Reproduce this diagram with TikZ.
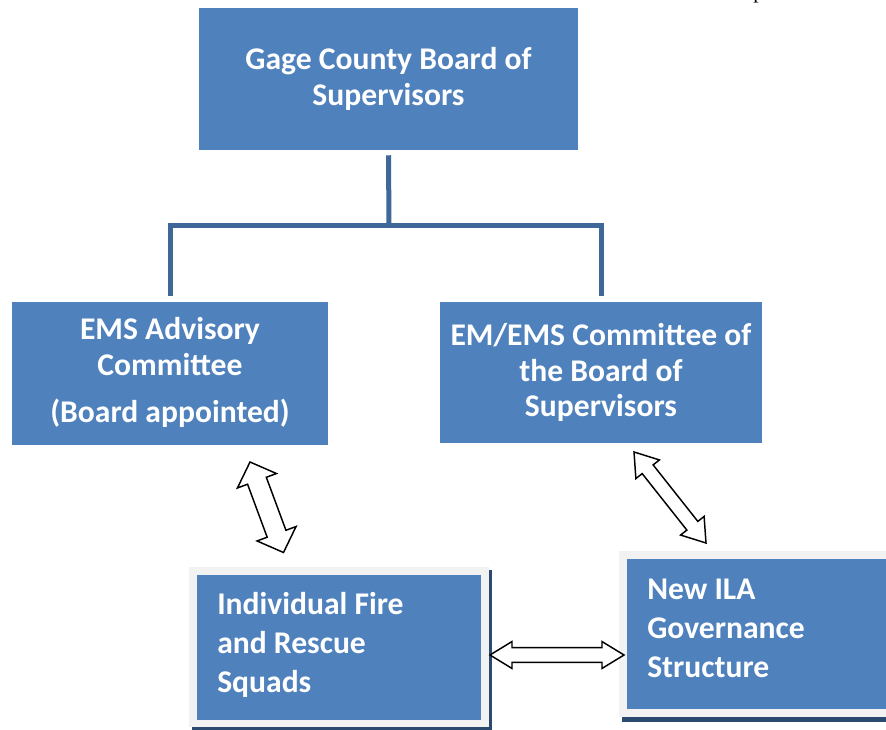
\documentclass[tikz,border=0pt]{standalone}
\usepackage{fontspec}
\setmainfont{Carlito}
\newfontfamily\serifp{Liberation Serif}
\usetikzlibrary{calc}
\definecolor{boxblue}{HTML}{4F81BD}
\definecolor{linkblue}{HTML}{3F6899}
\definecolor{shadowblue}{HTML}{2B4A70}
\definecolor{rimgray}{HTML}{F2F2F2}
\newcommand\hollowpair[5]{%
  \draw[hollow] (#1) -- ($(#1)!#3!(#2)!#4!90:(#2)$) -- ($(#1)!#3!(#2)!#5!90:(#2)$)
    -- ($(#2)!#3!(#1)!#5!-90:(#1)$) -- ($(#2)!#3!(#1)!#4!-90:(#1)$) -- (#2)
    -- ($(#2)!#3!(#1)!#4!90:(#1)$) -- ($(#2)!#3!(#1)!#5!90:(#1)$)
    -- ($(#1)!#3!(#2)!#5!-90:(#2)$) -- ($(#1)!#3!(#2)!#4!-90:(#2)$) -- cycle;}
\begin{document}
\begin{tikzpicture}[x=0.75pt,y=-0.75pt,
  box/.style={fill=boxblue,draw=none,inner sep=0pt},
  rim/.style={fill=rimgray,draw=none,inner sep=0pt},
  shade/.style={fill=shadowblue,draw=none,inner sep=0pt},
  txt/.style={text=white,inner sep=0pt,font=\bfseries\fontsize{23.7}{26.6}\selectfont},
  txtlow/.style={txt,align=left,anchor=west,font=\bfseries\fontsize{23.7}{29.25}\selectfont},
  link/.style={draw=linkblue,line width=3.75pt},
  hollow/.style={draw=black,fill=white,line width=1.1pt,line join=miter}]
\useasboundingbox[fill=white] (0,0) rectangle (886,730);
% fragment of text at the top edge
\node[anchor=base west,inner sep=0pt,font=\serifp\fontsize{16}{16}\selectfont] (pfrag) at (753,-1) {p};
% boxes
\node[box,minimum width=284.25pt,minimum height=106.5pt] (top) at (388.5,79) {};
\node[box,minimum width=237pt,minimum height=107.25pt] (ems) at (170,373.5) {};
\node[box,minimum width=241.5pt,minimum height=105.75pt] (emc) at (601,372.5) {};
% Individual Fire box with rim and shadow
\node[shade,minimum width=225pt,minimum height=120pt] (ifrsh) at (342,650) {};
\node[rim,minimum width=225pt,minimum height=120pt] (ifrrim) at (339,647) {};
\node[box,minimum width=213pt,minimum height=108.75pt] (ifr) at (339,647.5) {};
% New ILA box with rim and shadow
\node[shade,minimum width=202.5pt,minimum height=124.5pt] (ilash) at (757,639) {};
\node[rim,minimum width=204.75pt,minimum height=124.5pt] (ilarim) at (755.5,634) {};
\node[box,minimum width=198.75pt,minimum height=112.5pt] (ila) at (759.5,634) {};
% texts
\node[txt,align=center] (toptext) at (top) {Gage County Board of\\Supervisors};
\node[txt,align=center] (emstext) at (170,372.5) {EMS Advisory\\Committee\\[9pt](Board appointed)};
\node[txt,align=center] (emctext) at (emc) {EM/EMS Committee of\\the Board of\\Supervisors};
\node[txtlow] (ifrtext) at (217,645) {Individual Fire\\and Rescue\\Squads};
\node[txtlow] (ilatext) at (647,628) {New ILA\\Governance\\Structure};
% tree connector
\coordinate (fork) at (389,225.5);
\draw[link] ($(top.south)+(0,5)$) -- (fork);
\draw[link] (fork) -| ($(ems.north)+(0,-6)$);
\draw[link] (fork) -| ($(emc.north)+(0,-6)$);
% two-way arrows
\coordinate (a1s) at (250,462);
\coordinate (a1e) at (283.5,552.5);
\coordinate (a2s) at (634,452);
\coordinate (a2e) at (706,543);
\coordinate (a3s) at (490,655);
\coordinate (a3e) at (624,655);
\hollowpair{a1s}{a1e}{15pt}{15.6pt}{7.5pt}
\hollowpair{a2s}{a2e}{16.5pt}{11.25pt}{5.25pt}
\hollowpair{a3s}{a3e}{16.5pt}{10.1pt}{5.6pt}
\end{tikzpicture}
\end{document}
